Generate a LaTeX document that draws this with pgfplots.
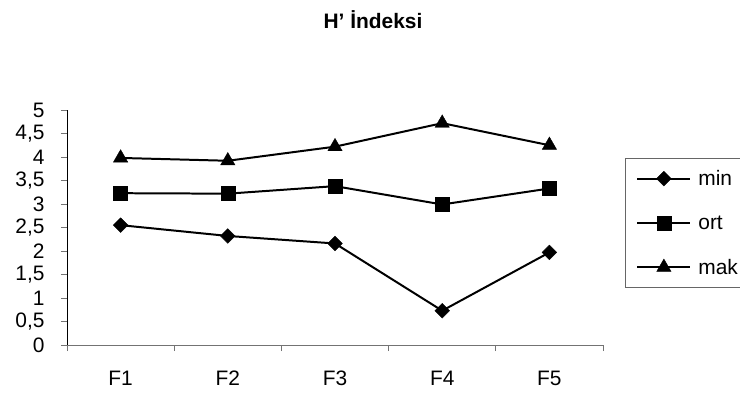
\documentclass[border=0pt]{standalone}
\usepackage{fontspec}
\setmainfont{Liberation Sans}
\usepackage{pgfplots}
\pgfplotsset{compat=1.18}

\pgfplotstableread{
x  min   ort   mak
0  2.55  3.23  3.98
1  2.32  3.22  3.92
2  2.16  3.38  4.22
3  0.73  2.99  4.72
4  1.97  3.33  4.25
}\hindex

% numbers on the value axis, in the text font with a decimal comma
\newcommand{\valuelabel}[1]{%
  \pgfmathprintnumber[assume math mode=true, use comma, fixed, precision=1]{#1}}

\begin{document}
\begin{tikzpicture}[x=1bp,y=1bp]
\useasboundingbox (0,0) rectangle (740,394);
\node[font=\fontsize{21}{25}\selectfont\bfseries] at (373,374) {H' İndeksi};
\begin{axis}[
  at={(67bp,49bp)}, anchor=south west,
  scale only axis, width=536bp, height=235bp,
  xmin=-0.5, xmax=4.5, ymin=0, ymax=5,
  xtick={-0.5,0.5,1.5,2.5,3.5,4.5}, xticklabels={},
  extra x ticks={0,1,2,3,4},
  extra x tick labels={F1,F2,F3,F4,F5},
  extra x tick style={major tick length=0pt,
    xticklabel style={anchor=north, text height=15bp, text depth=4bp, yshift=-22bp}},
  ytick={0,0.5,...,5},
  yticklabel={\valuelabel{\tick}},
  tick label style={font=\fontsize{21}{25}\selectfont},
  axis x line*=bottom, axis y line*=left,
  x axis line style={-, draw=black!55, line width=0.8pt},
  y axis line style={-, draw=black, line width=0.8pt},
  xtick style={draw=black!55, line width=0.8pt},
  ytick style={draw=black!55, line width=0.8pt},
  tick align=outside, major tick length=6bp,
  yticklabel style={xshift=-13bp},
  legend style={at={(rel axis cs:1.041,0.796)}, anchor=north west,
    draw=black!60, line width=0.8pt, font=\fontsize{21}{25}\selectfont,
    row sep=24.5bp, column sep=5bp, inner xsep=4bp, inner ysep=10bp,
    cells={anchor=west}},
  legend image code/.code={%
    \path (0bp,0bp);
    \draw[mark repeat=2,mark phase=2] plot coordinates {(7bp,0bp) (33.5bp,0bp) (60bp,0bp)};},
]
\addplot[black, line width=2pt, mark=square*, mark size=5.2pt, mark options={solid, line width=0.4pt, rotate=45}] table[x=x,y=min] {\hindex};
\addlegendentry{min}
\addplot[black, line width=2pt, mark=square*, mark size=7pt, mark options={solid, line width=0.4pt}] table[x=x,y=ort] {\hindex};
\addlegendentry{ort}
\addplot[black, line width=2pt, mark=triangle*, mark size=8.3pt, mark options={solid, line width=0.4pt}] table[x=x,y=mak] {\hindex};
\addlegendentry{mak}
\end{axis}
\end{tikzpicture}
\end{document}
